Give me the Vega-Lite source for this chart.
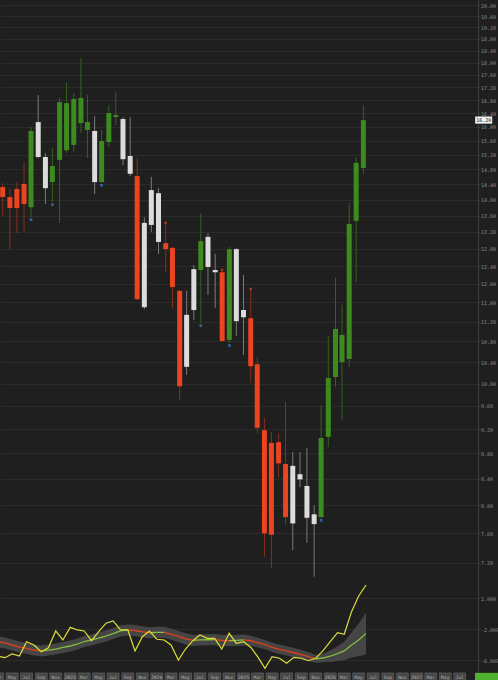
{
  "$schema": "https://vega.github.io/schema/vega-lite/v6.json",
  "background": "#1f1f1f",
  "padding": 0,
  "spacing": 0,
  "bounds": "flush",
  "config": {
    "view": {"stroke": null},
    "axis": {"labelFont": "DejaVu Sans Mono", "labelFontSize": 5, "labelColor": "#8e8e8e", "domainColor": "#3e3e3e", "tickColor": "#3e3e3e", "tickSize": 2, "labelPadding": 0.5, "gridColor": "#2b2b2b", "gridWidth": 1, "labelOverlap": false, "labelFlush": false, "labelBound": false}
  },
  "vconcat": [
    {
      "width": 478,
      "height": 580,
      "data": {
        "values": [
          {"date": "2022-03-01", "open": 14.33, "high": 14.44, "low": 13.61, "close": 14.07, "impulse": "down", "signal": ""},
          {"date": "2022-04-01", "open": 14.07, "high": 14.30, "low": 12.79, "close": 13.79, "impulse": "down", "signal": ""},
          {"date": "2022-05-01", "open": 14.28, "high": 14.46, "low": 13.17, "close": 13.79, "impulse": "down", "signal": ""},
          {"date": "2022-06-01", "open": 14.41, "high": 15.00, "low": 13.20, "close": 13.89, "impulse": "down", "signal": ""},
          {"date": "2022-07-01", "open": 13.81, "high": 16.00, "low": 13.56, "close": 15.88, "impulse": "up", "signal": "buy"},
          {"date": "2022-08-01", "open": 16.14, "high": 16.96, "low": 15.11, "close": 15.14, "impulse": "neutral", "signal": ""},
          {"date": "2022-09-01", "open": 15.14, "high": 15.25, "low": 13.89, "close": 14.30, "impulse": "neutral", "signal": ""},
          {"date": "2022-10-01", "open": 14.46, "high": 15.39, "low": 13.94, "close": 14.89, "impulse": "up", "signal": "buy"},
          {"date": "2022-11-01", "open": 15.06, "high": 16.87, "low": 13.42, "close": 16.74, "impulse": "up", "signal": ""},
          {"date": "2022-12-01", "open": 15.33, "high": 17.34, "low": 15.25, "close": 16.71, "impulse": "up", "signal": ""},
          {"date": "2023-01-01", "open": 15.48, "high": 17.02, "low": 15.28, "close": 16.84, "impulse": "up", "signal": ""},
          {"date": "2023-02-01", "open": 16.11, "high": 18.15, "low": 15.82, "close": 16.87, "impulse": "up", "signal": ""},
          {"date": "2023-03-01", "open": 15.91, "high": 16.96, "low": 15.11, "close": 16.14, "impulse": "up", "signal": ""},
          {"date": "2023-04-01", "open": 15.88, "high": 16.32, "low": 14.15, "close": 14.46, "impulse": "neutral", "signal": ""},
          {"date": "2023-05-01", "open": 14.46, "high": 15.91, "low": 14.44, "close": 15.59, "impulse": "up", "signal": "buy"},
          {"date": "2023-06-01", "open": 15.56, "high": 16.65, "low": 15.42, "close": 16.41, "impulse": "up", "signal": ""},
          {"date": "2023-07-01", "open": 16.29, "high": 17.05, "low": 16.05, "close": 16.35, "impulse": "up", "signal": ""},
          {"date": "2023-08-01", "open": 16.23, "high": 16.29, "low": 14.92, "close": 15.08, "impulse": "neutral", "signal": ""},
          {"date": "2023-09-01", "open": 15.17, "high": 16.29, "low": 14.62, "close": 14.68, "impulse": "neutral", "signal": ""},
          {"date": "2023-10-01", "open": 14.62, "high": 15.11, "low": 11.65, "close": 11.67, "impulse": "down", "signal": ""},
          {"date": "2023-11-01", "open": 11.50, "high": 13.56, "low": 11.46, "close": 13.42, "impulse": "neutral", "signal": ""},
          {"date": "2023-12-01", "open": 13.37, "high": 14.60, "low": 13.20, "close": 14.25, "impulse": "neutral", "signal": ""},
          {"date": "2024-01-01", "open": 14.17, "high": 14.30, "low": 12.68, "close": 12.96, "impulse": "neutral", "signal": ""},
          {"date": "2024-02-01", "open": 12.93, "high": 13.42, "low": 12.26, "close": 12.79, "impulse": "down", "signal": "sell"},
          {"date": "2024-03-01", "open": 12.82, "high": 12.84, "low": 11.48, "close": 11.93, "impulse": "down", "signal": ""},
          {"date": "2024-04-01", "open": 11.85, "high": 11.86, "low": 9.70, "close": 9.95, "impulse": "down", "signal": ""},
          {"date": "2024-05-01", "open": 10.31, "high": 11.85, "low": 10.16, "close": 11.34, "impulse": "neutral", "signal": ""},
          {"date": "2024-06-01", "open": 11.44, "high": 12.42, "low": 11.23, "close": 12.33, "impulse": "neutral", "signal": ""},
          {"date": "2024-07-01", "open": 12.31, "high": 13.66, "low": 11.17, "close": 12.98, "impulse": "up", "signal": "buy"},
          {"date": "2024-08-01", "open": 13.08, "high": 13.17, "low": 11.76, "close": 12.38, "impulse": "neutral", "signal": ""},
          {"date": "2024-09-01", "open": 12.31, "high": 12.68, "low": 11.48, "close": 12.26, "impulse": "neutral", "signal": ""},
          {"date": "2024-10-01", "open": 12.26, "high": 12.31, "low": 10.79, "close": 10.81, "impulse": "down", "signal": "sell"},
          {"date": "2024-11-01", "open": 10.83, "high": 12.84, "low": 10.77, "close": 12.79, "impulse": "up", "signal": "buy"},
          {"date": "2024-12-01", "open": 12.79, "high": 12.82, "low": 10.91, "close": 11.21, "impulse": "neutral", "signal": ""},
          {"date": "2025-01-01", "open": 11.44, "high": 12.20, "low": 10.54, "close": 11.29, "impulse": "neutral", "signal": ""},
          {"date": "2025-02-01", "open": 11.27, "high": 11.89, "low": 10.01, "close": 10.32, "impulse": "down", "signal": "sell"},
          {"date": "2025-03-01", "open": 10.36, "high": 10.50, "low": 9.13, "close": 9.22, "impulse": "down", "signal": ""},
          {"date": "2025-04-01", "open": 9.18, "high": 9.39, "low": 7.28, "close": 7.60, "impulse": "down", "signal": ""},
          {"date": "2025-05-01", "open": 8.97, "high": 9.15, "low": 7.13, "close": 7.58, "impulse": "down", "signal": ""},
          {"date": "2025-06-01", "open": 8.98, "high": 9.13, "low": 8.42, "close": 8.64, "impulse": "down", "signal": ""},
          {"date": "2025-07-01", "open": 8.63, "high": 9.67, "low": 7.72, "close": 7.83, "impulse": "down", "signal": ""},
          {"date": "2025-08-01", "open": 7.74, "high": 8.82, "low": 7.37, "close": 8.60, "impulse": "neutral", "signal": ""},
          {"date": "2025-09-01", "open": 8.47, "high": 8.82, "low": 8.27, "close": 8.39, "impulse": "neutral", "signal": ""},
          {"date": "2025-10-01", "open": 8.29, "high": 8.89, "low": 7.47, "close": 7.82, "impulse": "neutral", "signal": ""},
          {"date": "2025-11-01", "open": 7.87, "high": 8.00, "low": 7.02, "close": 7.73, "impulse": "neutral", "signal": ""},
          {"date": "2025-12-01", "open": 7.83, "high": 9.61, "low": 7.82, "close": 9.05, "impulse": "up", "signal": "buy"},
          {"date": "2026-01-01", "open": 9.07, "high": 10.91, "low": 8.90, "close": 10.10, "impulse": "up", "signal": ""},
          {"date": "2026-02-01", "open": 10.12, "high": 12.13, "low": 9.94, "close": 11.05, "impulse": "up", "signal": ""},
          {"date": "2026-03-01", "open": 10.40, "high": 11.55, "low": 9.35, "close": 10.93, "impulse": "up", "signal": ""},
          {"date": "2026-04-01", "open": 10.46, "high": 13.92, "low": 10.31, "close": 13.39, "impulse": "up", "signal": ""},
          {"date": "2026-05-01", "open": 13.47, "high": 15.14, "low": 12.04, "close": 14.98, "impulse": "up", "signal": ""},
          {"date": "2026-06-01", "open": 14.84, "high": 16.65, "low": 14.68, "close": 16.20, "impulse": "up", "signal": ""}
        ],
        "format": {"parse": {"date": "date"}}
      },
      "encoding": {
        "x": {"field": "date", "type": "temporal", "axis": null,
          "scale": {"domain": [{"year": 2022, "month": 3, "date": 11, "utc": true}, {"year": 2027, "month": 9, "date": 16, "utc": true}], "nice": false}}
      },
      "layer": [
        {
          "mark": {"type": "rule", "strokeWidth": 1, "clip": true},
          "encoding": {
            "y": {"field": "low", "type": "quantitative", "scale": {"type": "log", "domain": [6.978, 20.184], "nice": false},
              "axis": {"orient": "right", "title": null, "grid": true, "format": ".2f",
                "values": [7.2, 7.6, 8.0, 8.4, 8.8, 9.2, 9.6, 10.0, 10.4, 10.8, 11.2, 11.6, 12.0, 12.4, 12.8, 13.2, 13.6, 14.0, 14.4, 14.8, 15.2, 15.6, 16.0, 16.4, 16.8, 17.2, 17.6, 18.0, 18.4, 18.8, 19.2, 19.6, 20.0]}},
            "y2": {"field": "high"},
            "stroke": {"field": "impulse", "type": "nominal", "legend": null,
              "scale": {"domain": ["up", "down", "neutral"], "range": ["#35621f", "#86301c", "#7a7a7a"]}}
          }
        },
        {
          "mark": {"type": "bar", "width": 5, "clip": true},
          "encoding": {
            "y": {"field": "open", "type": "quantitative", "scale": {"type": "log", "domain": [6.978, 20.184], "nice": false}},
            "y2": {"field": "close"},
            "fill": {"field": "impulse", "type": "nominal", "legend": null,
              "scale": {"domain": ["up", "down", "neutral"], "range": ["#3d8b1f", "#ea4420", "#dcdcdc"]}}
          }
        },
        {
          "transform": [{"filter": "datum.signal == 'buy'"}],
          "mark": {"type": "point", "shape": "square", "filled": true, "size": 7, "color": "#3f80e0", "yOffset": 2.5, "clip": true},
          "encoding": {
            "y": {"field": "low", "type": "quantitative", "scale": {"type": "log", "domain": [6.978, 20.184], "nice": false}}
          }
        },
        {
          "transform": [{"filter": "datum.signal == 'sell'"}],
          "mark": {"type": "point", "shape": "circle", "filled": true, "size": 8, "color": "#d8401e", "clip": true},
          "encoding": {
            "y": {"field": "high", "type": "quantitative", "scale": {"type": "log", "domain": [6.978, 20.184], "nice": false}}
          }
        },
        {
          "data": {"values": [{"date": "2027-11-01", "price": 16.2, "label": "16.20"}]},
          "mark": {"type": "point", "shape": "M-1,-0.42H1V0.42H-1Z", "filled": true, "size": 289, "color": "#f2f2f2", "opacity": 1},
          "encoding": {
            "y": {"field": "price", "type": "quantitative", "scale": {"type": "log", "domain": [6.978, 20.184], "nice": false}}
          }
        },
        {
          "data": {"values": [{"date": "2027-11-01", "price": 16.2, "label": "16.20"}]},
          "mark": {"type": "text", "font": "DejaVu Sans Mono", "fontSize": 5, "color": "#111111", "align": "center", "baseline": "middle"},
          "encoding": {
            "y": {"field": "price", "type": "quantitative", "scale": {"type": "log", "domain": [6.978, 20.184], "nice": false}},
            "text": {"field": "label"}
          }
        }
      ]
    },
    {
      "width": 478,
      "height": 92,
      "data": {
        "values": [
          {"date": "2022-03-01", "osc": -5.42, "mid": -3.57, "lower": -4.29, "upper": -2.85},
          {"date": "2022-04-01", "osc": -5.64, "mid": -3.74, "lower": -4.46, "upper": -3.02},
          {"date": "2022-05-01", "osc": -5.16, "mid": -4.00, "lower": -4.72, "upper": -3.28},
          {"date": "2022-06-01", "osc": -5.42, "mid": -4.26, "lower": -4.98, "upper": -3.54},
          {"date": "2022-07-01", "osc": -3.57, "mid": -4.45, "lower": -5.17, "upper": -3.73},
          {"date": "2022-08-01", "osc": -4.00, "mid": -4.65, "lower": -5.37, "upper": -3.93},
          {"date": "2022-09-01", "osc": -4.86, "mid": -4.77, "lower": -5.49, "upper": -4.05},
          {"date": "2022-10-01", "osc": -4.35, "mid": -4.65, "lower": -5.37, "upper": -3.93},
          {"date": "2022-11-01", "osc": -2.19, "mid": -4.52, "lower": -5.24, "upper": -3.80},
          {"date": "2022-12-01", "osc": -3.35, "mid": -4.32, "lower": -5.04, "upper": -3.60},
          {"date": "2023-01-01", "osc": -1.72, "mid": -4.13, "lower": -4.85, "upper": -3.41},
          {"date": "2023-02-01", "osc": -2.06, "mid": -3.87, "lower": -4.59, "upper": -3.15},
          {"date": "2023-03-01", "osc": -2.19, "mid": -3.55, "lower": -4.27, "upper": -2.83},
          {"date": "2023-04-01", "osc": -3.44, "mid": -3.35, "lower": -4.07, "upper": -2.63},
          {"date": "2023-05-01", "osc": -2.28, "mid": -3.10, "lower": -3.82, "upper": -2.38},
          {"date": "2023-06-01", "osc": -1.19, "mid": -2.84, "lower": -3.56, "upper": -2.12},
          {"date": "2023-07-01", "osc": -0.90, "mid": -2.52, "lower": -3.24, "upper": -1.80},
          {"date": "2023-08-01", "osc": -2.06, "mid": -2.19, "lower": -2.91, "upper": -1.47},
          {"date": "2023-09-01", "osc": -2.06, "mid": -2.06, "lower": -2.78, "upper": -1.34},
          {"date": "2023-10-01", "osc": -4.77, "mid": -2.13, "lower": -2.85, "upper": -1.41},
          {"date": "2023-11-01", "osc": -2.93, "mid": -2.30, "lower": -3.02, "upper": -1.58},
          {"date": "2023-12-01", "osc": -2.19, "mid": -2.42, "lower": -3.14, "upper": -1.70},
          {"date": "2024-01-01", "osc": -3.26, "mid": -2.38, "lower": -3.10, "upper": -1.66},
          {"date": "2024-02-01", "osc": -3.35, "mid": -2.36, "lower": -3.08, "upper": -1.64},
          {"date": "2024-03-01", "osc": -4.00, "mid": -2.60, "lower": -3.32, "upper": -1.88},
          {"date": "2024-04-01", "osc": -5.94, "mid": -2.90, "lower": -3.62, "upper": -2.18},
          {"date": "2024-05-01", "osc": -4.52, "mid": -3.20, "lower": -3.92, "upper": -2.48},
          {"date": "2024-06-01", "osc": -3.44, "mid": -3.40, "lower": -4.12, "upper": -2.68},
          {"date": "2024-07-01", "osc": -2.71, "mid": -3.35, "lower": -4.07, "upper": -2.63},
          {"date": "2024-08-01", "osc": -3.14, "mid": -3.32, "lower": -4.04, "upper": -2.60},
          {"date": "2024-09-01", "osc": -3.14, "mid": -3.30, "lower": -4.02, "upper": -2.58},
          {"date": "2024-10-01", "osc": -4.52, "mid": -3.40, "lower": -4.12, "upper": -2.68},
          {"date": "2024-11-01", "osc": -2.49, "mid": -3.45, "lower": -4.17, "upper": -2.73},
          {"date": "2024-12-01", "osc": -3.78, "mid": -3.40, "lower": -4.12, "upper": -2.68},
          {"date": "2025-01-01", "osc": -3.57, "mid": -3.35, "lower": -4.05, "upper": -2.65},
          {"date": "2025-02-01", "osc": -4.32, "mid": -3.45, "lower": -4.10, "upper": -2.80},
          {"date": "2025-03-01", "osc": -5.51, "mid": -3.70, "lower": -4.32, "upper": -3.08},
          {"date": "2025-04-01", "osc": -7.01, "mid": -3.95, "lower": -4.55, "upper": -3.35},
          {"date": "2025-05-01", "osc": -5.51, "mid": -4.30, "lower": -4.90, "upper": -3.70},
          {"date": "2025-06-01", "osc": -5.71, "mid": -4.55, "lower": -5.15, "upper": -3.95},
          {"date": "2025-07-01", "osc": -6.36, "mid": -4.75, "lower": -5.35, "upper": -4.15},
          {"date": "2025-08-01", "osc": -5.59, "mid": -5.00, "lower": -5.60, "upper": -4.40},
          {"date": "2025-09-01", "osc": -5.71, "mid": -5.25, "lower": -5.85, "upper": -4.65},
          {"date": "2025-10-01", "osc": -6.03, "mid": -5.50, "lower": -6.05, "upper": -4.95},
          {"date": "2025-11-01", "osc": -5.71, "mid": -5.78, "lower": -6.28, "upper": -5.28},
          {"date": "2025-12-01", "osc": -4.77, "mid": -5.68, "lower": -6.23, "upper": -5.13},
          {"date": "2026-01-01", "osc": -3.57, "mid": -5.45, "lower": -6.20, "upper": -4.70},
          {"date": "2026-02-01", "osc": -2.41, "mid": -5.10, "lower": -6.05, "upper": -4.15},
          {"date": "2026-03-01", "osc": -2.62, "mid": -4.77, "lower": -5.97, "upper": -3.57},
          {"date": "2026-04-01", "osc": 0.30, "mid": -4.00, "lower": -5.60, "upper": -2.40},
          {"date": "2026-05-01", "osc": 2.32, "mid": -3.35, "lower": -5.45, "upper": -1.25},
          {"date": "2026-06-01", "osc": 3.74, "mid": -2.50, "lower": -5.20, "upper": 0.20}
        ],
        "format": {"parse": {"date": "date"}}
      },
      "encoding": {
        "x": {"field": "date", "type": "temporal", "axis": null,
          "scale": {"domain": [{"year": 2022, "month": 3, "date": 11, "utc": true}, {"year": 2027, "month": 9, "date": 16, "utc": true}], "nice": false}}
      },
      "layer": [
        {
          "mark": {"type": "area", "color": "#4c4c4c", "opacity": 0.85, "clip": true},
          "encoding": {
            "y": {"field": "lower", "type": "quantitative", "scale": {"domain": [-7.484, 4.387], "nice": false, "zero": false},
              "axis": {"orient": "right", "title": null, "grid": true, "values": [-6, -4, -2, 0, 2],
                "labelExpr": "replace(format(datum.value, '.3f'), '\u2212', '-')"}},
            "y2": {"field": "upper"}
          }
        },
        {
          "transform": [
            {"window": [{"op": "lead", "field": "mid", "as": "mid_next"}, {"op": "lead", "field": "date", "as": "date_next"}], "sort": [{"field": "date", "order": "ascending"}]},
            {"filter": "datum.mid_next != null"}
          ],
          "mark": {"type": "rule", "strokeWidth": 1.3, "clip": true},
          "encoding": {
            "x2": {"field": "date_next"},
            "y": {"field": "mid", "type": "quantitative", "scale": {"domain": [-7.484, 4.387], "nice": false, "zero": false}},
            "y2": {"field": "mid_next"},
            "stroke": {"condition": {"test": "datum.mid_next >= datum.mid", "value": "#84c23e"}, "value": "#e2401c"}
          }
        },
        {
          "mark": {"type": "line", "color": "#dede3a", "strokeWidth": 1.2, "clip": true},
          "encoding": {
            "y": {"field": "osc", "type": "quantitative", "scale": {"domain": [-7.484, 4.387], "nice": false, "zero": false}}
          }
        }
      ]
    },
    {
      "width": 478,
      "height": 12,
      "data": {
        "values": [
          {"date": "2022-03-01", "label": "Mar"}, {"date": "2022-05-01", "label": "May"}, {"date": "2022-07-01", "label": "Jul"},
          {"date": "2022-09-01", "label": "Sep"}, {"date": "2022-11-01", "label": "Nov"}, {"date": "2023-01-01", "label": "2023"},
          {"date": "2023-03-01", "label": "Mar"}, {"date": "2023-05-01", "label": "May"}, {"date": "2023-07-01", "label": "Jul"},
          {"date": "2023-09-01", "label": "Sep"}, {"date": "2023-11-01", "label": "Nov"}, {"date": "2024-01-01", "label": "2024"},
          {"date": "2024-03-01", "label": "Mar"}, {"date": "2024-05-01", "label": "May"}, {"date": "2024-07-01", "label": "Jul"},
          {"date": "2024-09-01", "label": "Sep"}, {"date": "2024-11-01", "label": "Nov"}, {"date": "2025-01-01", "label": "2025"},
          {"date": "2025-03-01", "label": "Mar"}, {"date": "2025-05-01", "label": "May"}, {"date": "2025-07-01", "label": "Jul"},
          {"date": "2025-09-01", "label": "Sep"}, {"date": "2025-11-01", "label": "Nov"}, {"date": "2026-01-01", "label": "2026"},
          {"date": "2026-03-01", "label": "Mar"}, {"date": "2026-05-01", "label": "May"}, {"date": "2026-07-01", "label": "Jul"},
          {"date": "2026-09-01", "label": "Sep"}, {"date": "2026-11-01", "label": "Nov"}, {"date": "2027-01-01", "label": "2027"},
          {"date": "2027-03-01", "label": "Mar"}, {"date": "2027-05-01", "label": "May"}, {"date": "2027-07-01", "label": "Jul"}
        ],
        "format": {"parse": {"date": "date"}}
      },
      "encoding": {
        "x": {"field": "date", "type": "temporal", "axis": null,
          "scale": {"domain": [{"year": 2022, "month": 3, "date": 11, "utc": true}, {"year": 2027, "month": 9, "date": 16, "utc": true}], "nice": false}}
      },
      "layer": [
        {
          "mark": {"type": "point", "shape": "M-1,-0.85H1V0.85H-1Z", "size": 144, "filled": true, "fill": "#474747", "stroke": "#636363", "strokeWidth": 0.6, "opacity": 1, "clip": true}
        },
        {
          "mark": {"type": "text", "font": "DejaVu Sans Mono", "fontSize": 4.6, "color": "#b4b4b4", "align": "center", "baseline": "middle", "clip": true},
          "encoding": {"text": {"field": "label"}}
        },
        {
          "data": {"values": [{"date": "2027-10-22"}]},
          "mark": {"type": "point", "shape": "M-1,-0.45H1V0.45H-1Z", "size": 529, "filled": true, "color": "#52b030", "opacity": 1}
        }
      ]
    }
  ]
}
